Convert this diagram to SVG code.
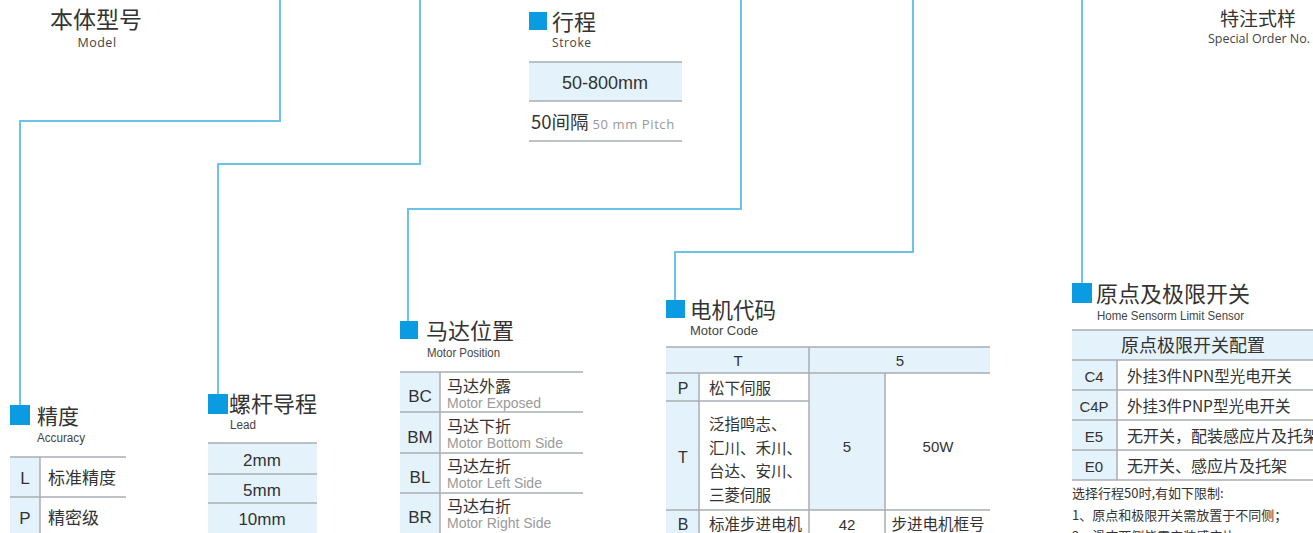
<svg xmlns="http://www.w3.org/2000/svg" width="1313" height="533" viewBox="0 0 1313 533">
<style>
.cn{font-family:"Noto Sans CJK SC","Liberation Sans",sans-serif;fill:#333}
.en{font-family:"Liberation Sans","Noto Sans CJK SC",sans-serif;fill:#333}
.os{font-family:"Open Sans","DejaVu Sans",sans-serif;fill:#444}
.title{font-size:22px}
.sub{font-size:12px;fill:#444}
.sq{fill:#0a9be0}
.conn{fill:none;stroke:#6cc3e9;stroke-width:2}
.grid{stroke:#a9aeb3;stroke-width:1.5;fill:none}
.bg{fill:#e4f2fc}
.gray{fill:#9a9a9a}
.mid{text-anchor:middle}
</style>
<rect width="1313" height="533" fill="#fff"/>
<g id="connectors">
<polyline class="conn" points="280,0 280,121 20,121 20,405"/>
<polyline class="conn" points="420,0 420,164 218,164 218,394"/>
<polyline class="conn" points="741,0 741,209 408,209 408,322"/>
<polyline class="conn" points="913,0 913,252 675,252 675,300"/>
<polyline class="conn" points="1082,0 1082,283"/>
</g>
<g id="model">
<text class="cn title" x="50" y="28" style="font-size:23px">本体型号</text>
<text class="os sub mid" x="97" y="47" style="font-size:12.5px;letter-spacing:0.5px">Model</text>
</g>
<g id="special">
<text class="cn mid" x="1258" y="26" style="font-size:19px">特注式样</text>
<text class="os sub mid" x="1259" y="43" style="font-size:12.5px">Special Order No.</text>
</g>
<g id="stroke">
<rect class="sq" x="529" y="12" width="18" height="18"/>
<text class="cn title" x="552" y="30">行程</text>
<text class="os sub" x="552" y="47" style="font-size:12px;letter-spacing:0.6px">Stroke</text>
<rect class="bg" x="529" y="62" width="153" height="39"/>
<line class="grid" x1="529" y1="62" x2="682" y2="62"/>
<line class="grid" x1="529" y1="101" x2="682" y2="101"/>
<line class="grid" x1="529" y1="141" x2="682" y2="141"/>
<text class="en mid" x="605" y="89" style="font-size:18px">50-800mm</text>
<text class="cn" x="531" y="129" style="font-size:18.5px">50间隔<tspan class="os" style="font-size:13px;fill:#999;letter-spacing:0.6px" dx="4">50 mm Pitch</tspan></text>
</g>
<g id="accuracy">
<rect class="sq" x="10" y="405" width="20" height="20"/>
<text class="cn" x="37" y="424" style="font-size:21px">精度</text>
<text class="en sub" x="37" y="442" textLength="48" lengthAdjust="spacingAndGlyphs">Accuracy</text>
<rect class="bg" x="10" y="457" width="30" height="80"/>
<line class="grid" x1="10" y1="457" x2="126" y2="457"/>
<line class="grid" x1="10" y1="497" x2="126" y2="497"/>
<line class="grid" x1="40" y1="457" x2="40" y2="533"/>
<text class="en mid" x="25" y="484" style="font-size:17px">L</text>
<text class="cn" x="48" y="484" style="font-size:17px">标准精度</text>
<text class="en mid" x="25" y="524" style="font-size:17px">P</text>
<text class="cn" x="48" y="524" style="font-size:17px">精密级</text>
</g>
<g id="lead">
<rect class="sq" x="208" y="394" width="20" height="20"/>
<text class="cn title" x="229" y="412">螺杆导程</text>
<text class="en sub" x="230" y="429" textLength="26" lengthAdjust="spacingAndGlyphs">Lead</text>
<rect class="bg" x="208" y="443" width="109" height="90"/>
<line class="grid" x1="208" y1="443" x2="317" y2="443"/>
<line class="grid" x1="208" y1="474" x2="317" y2="474"/>
<line class="grid" x1="208" y1="503" x2="317" y2="503"/>
<text class="en mid" x="262" y="466" style="font-size:17px">2mm</text>
<text class="en mid" x="262" y="496" style="font-size:17px">5mm</text>
<text class="en mid" x="262" y="525" style="font-size:17px">10mm</text>
</g>
<g id="motor-position">
<rect class="sq" x="400" y="321" width="18" height="18"/>
<text class="cn title" x="426" y="339">马达位置</text>
<text class="en sub" x="427" y="357" textLength="73" lengthAdjust="spacingAndGlyphs">Motor Position</text>
<rect class="bg" x="400" y="372" width="40" height="161"/>
<line class="grid" x1="400" y1="372" x2="583" y2="372"/>
<line class="grid" x1="400" y1="412" x2="583" y2="412"/>
<line class="grid" x1="400" y1="453" x2="583" y2="453"/>
<line class="grid" x1="400" y1="493" x2="583" y2="493"/>
<line class="grid" x1="440" y1="372" x2="440" y2="533"/>
<text class="en mid" x="420" y="402" style="font-size:17px">BC</text>
<text class="cn" x="447" y="392" style="font-size:16px">马达外露</text>
<text class="en gray" x="447" y="408" style="font-size:14px">Motor Exposed</text>
<text class="en mid" x="420" y="443" style="font-size:17px">BM</text>
<text class="cn" x="447" y="432" style="font-size:16px">马达下折</text>
<text class="en gray" x="447" y="448" style="font-size:14px">Motor Bottom Side</text>
<text class="en mid" x="420" y="483" style="font-size:17px">BL</text>
<text class="cn" x="447" y="472" style="font-size:16px">马达左折</text>
<text class="en gray" x="447" y="488" style="font-size:14px">Motor Left Side</text>
<text class="en mid" x="420" y="523" style="font-size:17px">BR</text>
<text class="cn" x="447" y="512" style="font-size:16px">马达右折</text>
<text class="en gray" x="447" y="528" style="font-size:14px">Motor Right Side</text>
</g>
<g id="motor-code">
<rect class="sq" x="666" y="300" width="19" height="18"/>
<text class="cn" x="690" y="318" style="font-size:21.5px">电机代码</text>
<text class="en sub" x="690" y="335" style="font-size:13px">Motor Code</text>
<rect class="bg" x="666" y="347" width="324" height="26"/>
<rect class="bg" x="666" y="373" width="33" height="160"/>
<rect class="bg" x="809" y="373" width="76" height="137"/>
<line class="grid" x1="666" y1="347" x2="990" y2="347"/>
<line class="grid" x1="666" y1="373" x2="990" y2="373"/>
<line class="grid" x1="666" y1="401" x2="809" y2="401"/>
<line class="grid" x1="666" y1="510" x2="990" y2="510"/>
<line class="grid" x1="699" y1="373" x2="699" y2="533"/>
<line class="grid" x1="809" y1="347" x2="809" y2="533"/>
<line class="grid" x1="885" y1="373" x2="885" y2="533"/>
<text class="en mid" x="738" y="366" style="font-size:15px">T</text>
<text class="en mid" x="900" y="366" style="font-size:15px">5</text>
<text class="en mid" x="683" y="394" style="font-size:16px">P</text>
<text class="cn" x="709" y="394" style="font-size:15.5px">松下伺服</text>
<text class="en mid" x="683" y="463" style="font-size:16px">T</text>
<text class="cn" x="709" y="430" style="font-size:15.5px">泛指鸣志、</text>
<text class="cn" x="709" y="454" style="font-size:15.5px">汇川、禾川、</text>
<text class="cn" x="709" y="477" style="font-size:15.5px">台达、安川、</text>
<text class="cn" x="709" y="501" style="font-size:15.5px">三菱伺服</text>
<text class="en mid" x="847" y="452" style="font-size:15px">5</text>
<text class="en mid" x="938" y="452" style="font-size:15px">50W</text>
<text class="en mid" x="683" y="530" style="font-size:16px">B</text>
<text class="cn" x="709" y="530" style="font-size:15.5px">标准步进电机</text>
<text class="en mid" x="847" y="530" style="font-size:15px">42</text>
<text class="cn mid" x="938" y="530" style="font-size:15.5px">步进电机框号</text>
</g>
<g id="home-sensor">
<rect class="sq" x="1072" y="283" width="20" height="20"/>
<text class="cn title" x="1096" y="302">原点及极限开关</text>
<text class="en sub" x="1097" y="320" textLength="147" lengthAdjust="spacingAndGlyphs">Home Sensorm Limit Sensor</text>
<rect class="bg" x="1072" y="330" width="241" height="30"/>
<rect class="bg" x="1072" y="360" width="45" height="120"/>
<line class="grid" x1="1072" y1="330" x2="1313" y2="330"/>
<line class="grid" x1="1072" y1="360" x2="1313" y2="360"/>
<line class="grid" x1="1072" y1="390" x2="1313" y2="390"/>
<line class="grid" x1="1072" y1="420" x2="1313" y2="420"/>
<line class="grid" x1="1072" y1="450" x2="1313" y2="450"/>
<line class="grid" x1="1072" y1="480" x2="1313" y2="480"/>
<line class="grid" x1="1117" y1="360" x2="1117" y2="480"/>
<text class="cn mid" x="1193" y="352" style="font-size:18px">原点极限开关配置</text>
<text class="en mid" x="1094" y="382" style="font-size:15px">C4</text>
<text class="cn" x="1127" y="382" style="font-size:15.5px">外挂3件NPN型光电开关</text>
<text class="en mid" x="1094" y="412" style="font-size:15px">C4P</text>
<text class="cn" x="1127" y="412" style="font-size:15.5px">外挂3件PNP型光电开关</text>
<text class="en mid" x="1094" y="442" style="font-size:15px">E5</text>
<text class="cn" x="1127" y="442" style="font-size:16px">无开关，配装感应片及托架</text>
<text class="en mid" x="1094" y="472" style="font-size:15px">E0</text>
<text class="cn" x="1127" y="472" style="font-size:16px">无开关、感应片及托架</text>
<text class="cn" x="1072" y="498" style="font-size:13px">选择行程50时,有如下限制:</text>
<text class="cn" x="1072" y="520" style="font-size:13px">1、原点和极限开关需放置于不同侧；</text>
<text class="cn" x="1072" y="541" style="font-size:13px">2、滑座两侧皆需安装感应片。</text>
</g>
</svg>
